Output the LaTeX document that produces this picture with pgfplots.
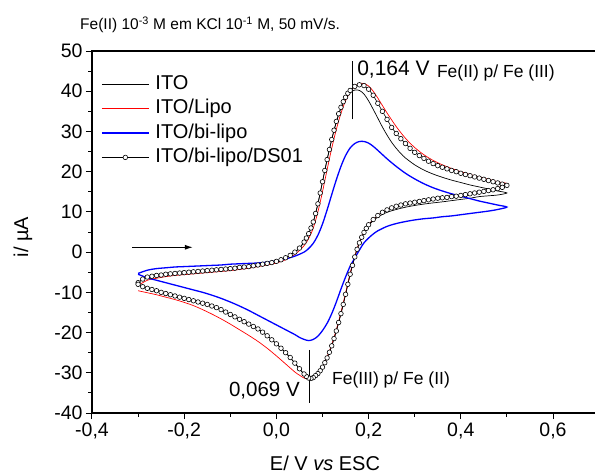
\documentclass[border=0pt]{standalone}
\usepackage{pgfplots}
\pgfplotsset{compat=1.18}
\usepackage{fontspec}
\setmainfont{Liberation Sans}
\usetikzlibrary{arrows.meta}

\begin{document}
\begin{tikzpicture}
\begin{axis}[
  scale only axis, width=506pt, height=362pt, clip=false,
  xmin=-0.4, xmax=0.6976, ymin=-40, ymax=50,
  xtick={-0.4,-0.2,0,0.2,0.4,0.6}, minor x tick num=1,
  ytick={-40,-30,-20,-10,0,10,20,30,40,50}, minor y tick num=1,
  tick pos=left, tick align=outside,
  major tick length=6pt, minor tick length=3.5pt,
  axis line style={line width=1.1pt},
  every tick/.style={black, line width=1pt},
  tick label style={font=\fontsize{19.5}{22}\selectfont},
  /pgf/number format/assume math mode=true,
  x tick label style={/pgf/number format/.cd, fixed, fixed zerofill, precision=1, use comma, assume math mode=true},
  xlabel={E/ V \textit{vs} ESC},
  xlabel style={font=\fontsize{20}{24}\selectfont, at={(axis description cs:0.4605,0)}, anchor=base, yshift=-57pt},
  ylabel={i/ µA},
  ylabel style={font=\fontsize{20}{24}\selectfont, at={(axis description cs:-0.1364,0.486)}, anchor=center},
  legend cell align=left,
  legend image code/.code={\draw[mark repeat=2,mark phase=2,#1] plot coordinates {(0pt,0pt) (23.5pt,0pt) (47pt,0pt)};},
  legend style={draw=none, fill=none, at={(axis description cs:0,1)}, anchor=north west,
    xshift=6pt, yshift=-21pt, font=\fontsize{20}{24}\selectfont, row sep=4.4pt, column sep=4pt,
    nodes={inner ysep=0pt, text height=15pt, text depth=5pt}},
]

% ITO
\addplot[black, line width=0.7pt, smooth] coordinates {
(-0.30,-7.6) (-0.28,-6.1) (-0.26,-5.8) (-0.24,-5.5) (-0.22,-5.3) (-0.20,-5.1) (-0.18,-4.9) (-0.16,-4.7)
(-0.14,-4.5) (-0.12,-4.3) (-0.10,-4.1) (-0.08,-3.8) (-0.06,-3.6) (-0.04,-3.2) (-0.02,-2.8) (0.00,-2.3)
(0.02,-1.4) (0.04,0.0) (0.05,1.0) (0.06,2.5) (0.07,4.6) (0.08,7.5) (0.09,12.0) (0.10,17.5) (0.11,23.0)
(0.12,28.0) (0.13,32.3) (0.14,35.7) (0.15,38.1) (0.16,39.6) (0.17,40.3) (0.18,40.2) (0.19,39.3) (0.20,37.6)
(0.21,35.5) (0.22,33.3) (0.23,31.1) (0.24,29.1) (0.25,27.3) (0.26,25.8) (0.27,24.5) (0.28,23.4) (0.30,21.7)
(0.32,20.4) (0.34,19.4) (0.36,18.6) (0.38,17.9) (0.40,17.3) (0.42,16.7) (0.44,16.2) (0.46,15.7) (0.48,15.2)
(0.50,14.7)
(0.48,14.2) (0.46,14.0) (0.44,13.8) (0.42,13.4) (0.40,13.1) (0.38,12.8) (0.36,12.5) (0.33,12.1) (0.30,11.6)
(0.27,10.9) (0.24,9.9) (0.22,8.7) (0.21,7.8) (0.20,6.6) (0.19,4.9) (0.18,2.3) (0.17,-1.2) (0.16,-5.5)
(0.15,-10.5) (0.14,-15.3) (0.13,-19.6) (0.12,-23.3) (0.11,-26.3) (0.10,-28.6) (0.09,-30.2) (0.08,-31.1)
(0.07,-31.3) (0.06,-30.4) (0.05,-29.0) (0.04,-27.6) (0.02,-25.0) (0.00,-22.8) (-0.02,-20.8) (-0.04,-19.1)
(-0.06,-17.9) (-0.08,-16.7) (-0.10,-15.5) (-0.12,-14.3) (-0.14,-13.4) (-0.16,-12.7) (-0.18,-12.1)
(-0.20,-11.5) (-0.22,-10.9) (-0.24,-10.3) (-0.26,-9.6) (-0.28,-9.0) (-0.30,-8.0)
};
\addlegendentry{ITO}

% ITO/Lipo
\addplot[red, line width=0.7pt, smooth] coordinates {
(-0.30,-8.3) (-0.28,-7.0) (-0.26,-6.5) (-0.24,-6.1) (-0.22,-5.8) (-0.20,-5.6) (-0.18,-5.4) (-0.16,-5.2)
(-0.14,-5.0) (-0.12,-4.8) (-0.10,-4.6) (-0.08,-4.3) (-0.06,-4.0) (-0.04,-3.6) (-0.02,-3.2) (0.00,-2.7)
(0.02,-1.9) (0.04,-0.6) (0.06,1.6) (0.07,3.4) (0.08,6.0) (0.09,10.0) (0.10,15.0) (0.11,20.5) (0.12,25.8)
(0.13,30.5) (0.14,34.5) (0.15,37.6) (0.16,39.8) (0.17,41.2) (0.18,41.9) (0.19,41.9) (0.20,41.3) (0.21,40.0)
(0.22,38.3) (0.24,34.6) (0.26,31.2) (0.28,28.3) (0.30,26.0) (0.32,24.2) (0.34,22.8) (0.36,21.7) (0.38,20.8)
(0.40,20.0) (0.42,19.3) (0.44,18.7) (0.46,18.1) (0.48,17.5) (0.50,17.0)
(0.48,16.0) (0.46,15.4) (0.44,15.0) (0.42,14.6) (0.40,14.2) (0.38,13.8) (0.36,13.5) (0.34,13.2) (0.32,12.8)
(0.30,12.4) (0.28,12.0) (0.26,11.4) (0.24,10.5) (0.22,9.1) (0.20,6.9) (0.19,5.1) (0.18,2.5) (0.17,-1.0)
(0.16,-5.3) (0.15,-10.2) (0.14,-15.0) (0.13,-19.3) (0.12,-23.0) (0.11,-26.0) (0.10,-28.4) (0.09,-30.1)
(0.08,-31.2) (0.07,-31.6) (0.06,-31.3) (0.05,-30.6) (0.04,-29.8) (0.02,-27.8) (0.00,-25.8) (-0.02,-23.9)
(-0.04,-22.2) (-0.06,-20.7) (-0.08,-19.3) (-0.10,-17.9) (-0.12,-16.6) (-0.14,-15.4) (-0.16,-14.3)
(-0.18,-13.3) (-0.20,-12.5) (-0.22,-11.8) (-0.24,-11.2) (-0.26,-10.6) (-0.28,-10.1) (-0.30,-9.6)
};
\addlegendentry{ITO/Lipo}

% ITO/bi-lipo
\addplot[blue, line width=1.3pt, smooth] coordinates {
(-0.30,-5.3) (-0.28,-4.5) (-0.26,-4.1) (-0.24,-3.9) (-0.22,-3.7) (-0.20,-3.6) (-0.18,-3.5) (-0.16,-3.4)
(-0.14,-3.3) (-0.12,-3.2) (-0.10,-3.0) (-0.08,-2.9) (-0.06,-2.8) (-0.04,-2.7) (-0.02,-2.5) (0.00,-2.2)
(0.02,-1.7) (0.04,-1.0) (0.06,0.0) (0.07,0.9) (0.08,2.2) (0.09,4.2) (0.10,7.0) (0.11,10.5) (0.12,14.3)
(0.13,18.0) (0.14,21.3) (0.15,24.0) (0.16,25.9) (0.17,27.0) (0.18,27.5) (0.19,27.5) (0.20,27.1) (0.21,26.3)
(0.22,25.3) (0.24,23.2) (0.26,21.3) (0.28,19.6) (0.30,18.2) (0.32,17.0) (0.34,16.0) (0.36,15.2) (0.38,14.5)
(0.40,13.9) (0.42,13.3) (0.44,12.7) (0.46,12.2) (0.48,11.7) (0.50,11.2)
(0.48,10.6) (0.46,10.2) (0.44,9.9) (0.42,9.6) (0.40,9.3) (0.38,9.0) (0.36,8.8) (0.34,8.5) (0.32,8.3)
(0.30,8.0) (0.28,7.6) (0.26,7.1) (0.24,6.4) (0.22,5.3) (0.21,4.5) (0.20,3.5) (0.19,2.3) (0.18,0.5)
(0.17,-1.5) (0.16,-3.5) (0.15,-6.2) (0.14,-9.2) (0.13,-12.4) (0.12,-15.3) (0.11,-17.7) (0.10,-19.5)
(0.09,-20.9) (0.08,-21.7) (0.07,-22.0) (0.06,-21.7) (0.05,-21.2) (0.04,-20.5) (0.02,-19.3) (0.00,-18.1)
(-0.02,-16.9) (-0.04,-15.7) (-0.06,-14.5) (-0.08,-13.4) (-0.10,-12.4) (-0.12,-11.5) (-0.14,-10.7)
(-0.16,-10.0) (-0.18,-9.4) (-0.20,-8.8) (-0.22,-8.2) (-0.24,-7.6) (-0.26,-7.0) (-0.28,-6.4) (-0.30,-5.5)
};
\addlegendentry{ITO/bi-lipo}

% ITO/bi-lipo/DS01
\addplot[black, line width=0.6pt, mark=*, mark size=2.3pt, mark options={fill=white, draw=black, line width=0.6pt}] coordinates {
(-0.30,-7.6) (-0.29,-6.7) (-0.28,-6.2) (-0.27,-6.0) (-0.26,-5.8) (-0.25,-5.7) (-0.24,-5.5) (-0.23,-5.4)
(-0.22,-5.3) (-0.21,-5.2) (-0.20,-5.1) (-0.19,-5.0) (-0.18,-4.9) (-0.17,-4.8) (-0.16,-4.7) (-0.15,-4.6)
(-0.14,-4.5) (-0.13,-4.4) (-0.12,-4.3) (-0.11,-4.2) (-0.10,-4.1) (-0.09,-4.0) (-0.08,-3.8) (-0.07,-3.7)
(-0.06,-3.6) (-0.05,-3.4) (-0.04,-3.2) (-0.03,-3.0) (-0.02,-2.8) (-0.01,-2.6) (0.00,-2.3) (0.01,-1.9)
(0.02,-1.4) (0.03,-0.8) (0.04,0.0) (0.05,1.0) (0.06,2.5) (0.065,3.5) (0.07,4.6) (0.075,6.0) (0.08,7.5)
(0.085,9.6) (0.09,12.0) (0.095,14.7) (0.10,17.5) (0.105,20.3) (0.11,23.0) (0.115,25.5) (0.12,28.0)
(0.125,30.3) (0.13,32.5) (0.135,34.4) (0.14,36.0) (0.145,37.4) (0.15,38.5) (0.155,39.5) (0.16,40.2)
(0.17,41.2) (0.18,41.6) (0.19,41.4) (0.20,40.5) (0.21,39.0) (0.22,37.0) (0.23,35.0) (0.24,33.0)
(0.25,31.0) (0.26,29.5) (0.27,28.2) (0.28,27.0) (0.29,25.8) (0.30,24.8) (0.31,24.0) (0.32,23.3)
(0.33,22.6) (0.34,22.0) (0.35,21.5) (0.36,21.1) (0.37,20.7) (0.38,20.3) (0.39,20.0) (0.40,19.6)
(0.41,19.3) (0.42,19.0) (0.43,18.7) (0.44,18.4) (0.45,18.1) (0.46,17.8) (0.47,17.5) (0.48,17.2)
(0.49,16.9) (0.50,16.6)
(0.49,16.1) (0.48,15.8) (0.47,15.5) (0.46,15.3) (0.45,15.1) (0.44,14.9) (0.43,14.7) (0.42,14.5)
(0.41,14.3) (0.40,14.1) (0.39,13.9) (0.38,13.8) (0.37,13.6) (0.36,13.5) (0.35,13.4) (0.34,13.2)
(0.33,13.0) (0.32,12.8) (0.31,12.6) (0.30,12.4) (0.29,12.2) (0.28,12.0) (0.27,11.7) (0.26,11.4)
(0.25,11.0) (0.24,10.5) (0.23,9.9) (0.22,9.1) (0.21,8.1) (0.20,6.8) (0.195,5.9) (0.19,4.9) (0.185,3.7)
(0.18,2.3) (0.175,0.7) (0.17,-1.2) (0.165,-3.3) (0.16,-5.5) (0.155,-8.0) (0.15,-10.5) (0.145,-13.0)
(0.14,-15.3) (0.135,-17.5) (0.13,-19.6) (0.125,-21.5) (0.12,-23.3) (0.115,-24.9) (0.11,-26.3)
(0.105,-27.5) (0.10,-28.6) (0.095,-29.5) (0.09,-30.2) (0.085,-30.7) (0.08,-31.2) (0.075,-31.4)
(0.07,-31.3) (0.065,-30.9) (0.06,-30.3) (0.05,-29.0) (0.04,-27.6) (0.03,-26.2) (0.02,-25.0) (0.01,-23.9)
(0.00,-22.8) (-0.01,-21.8) (-0.02,-20.8) (-0.03,-19.9) (-0.04,-19.1) (-0.05,-18.5) (-0.06,-17.9)
(-0.07,-17.3) (-0.08,-16.7) (-0.09,-16.1) (-0.10,-15.5) (-0.11,-14.9) (-0.12,-14.3) (-0.13,-13.8)
(-0.14,-13.4) (-0.15,-13.0) (-0.16,-12.7) (-0.17,-12.4) (-0.18,-12.1) (-0.19,-11.8) (-0.20,-11.5)
(-0.21,-11.2) (-0.22,-10.9) (-0.23,-10.6) (-0.24,-10.3) (-0.25,-10.0) (-0.26,-9.6) (-0.27,-9.3)
(-0.28,-9.0) (-0.29,-8.6) (-0.30,-8.0)
};
\addlegendentry{ITO/bi-lipo/DS01}

% annotations
\draw[line width=0.8pt] (axis cs:0.164,33) -- (axis cs:0.164,47.5);
\draw[line width=0.8pt] (axis cs:0.071,-24.3) -- (axis cs:0.071,-37.5);
\node[anchor=base west, inner sep=0pt, font=\fontsize{21}{24}\selectfont] at (axis cs:0.175,43.8) {0,164 V};
\node[anchor=base west, inner sep=0pt, font=\fontsize{17.5}{20}\selectfont] at (axis cs:0.348,43.5) {Fe(II) p/ Fe (III)};
\node[anchor=base east, inner sep=0pt, font=\fontsize{20.5}{24}\selectfont] at (axis cs:0.051,-36) {0,069 V};
\node[anchor=base west, inner sep=0pt, font=\fontsize{17.5}{20}\selectfont] at (axis cs:0.1206,-33) {Fe(III) p/ Fe (II)};
\draw[line width=1.2pt, -{Latex[length=8pt,width=5pt]}] (axis cs:-0.313,1.2) -- (axis cs:-0.181,1.2);
\node[anchor=west, inner sep=0pt, font=\fontsize{15.5}{18}\selectfont] at (axis description cs:-0.0237,1.0718)
  {Fe(II) 10\textsuperscript{-3} M em KCl 10\textsuperscript{-1} M, 50 mV/s.};
\end{axis}
\pgfresetboundingbox
\path (-92pt,-62pt) rectangle (503pt,413pt);
\end{tikzpicture}
\end{document}
